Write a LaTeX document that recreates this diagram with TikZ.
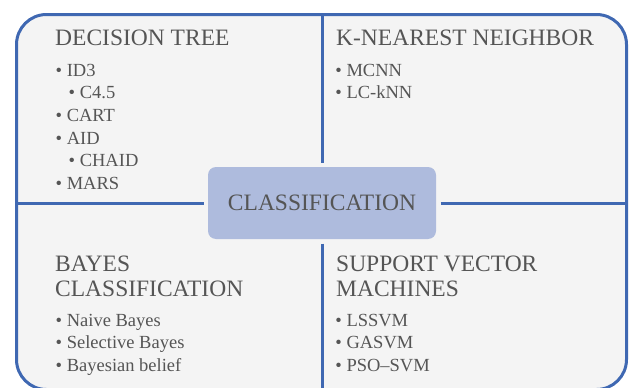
\documentclass[tikz,border=0pt]{standalone}
\usepackage{fontspec}
\setmainfont{Liberation Serif}
\definecolor{bordblue}{RGB}{63,104,178}
\definecolor{boxfill}{RGB}{244,244,244}
\definecolor{clsfill}{RGB}{174,187,221}
\definecolor{txtgray}{RGB}{85,85,85}
\begin{document}
\begin{tikzpicture}[x=1pt,y=-1pt,
 head/.style={anchor=base west,inner sep=0,text=txtgray,font=\rmfamily\fontsize{23.5}{28}\selectfont},
 item/.style={anchor=base west,inner sep=0,text=txtgray,font=\rmfamily\fontsize{18.5}{22}\selectfont},
 divider/.style={draw=bordblue,line width=3pt},
 cls/.style={fill=clsfill,rounded corners=8pt,minimum width=228pt,minimum height=72pt,inner sep=0,text=txtgray,font=\rmfamily\fontsize{23.5}{28}\selectfont,outer sep=4.5pt}]
\useasboundingbox (0,0) rectangle (630,388);
\node[draw=bordblue,line width=3pt,fill=boxfill,rounded corners=30pt,minimum width=610pt,minimum height=375pt,anchor=north west,inner sep=0] (frame) at (15,13) {};
\node[cls] (cls) at (322,203) {CLASSIFICATION};
\draw[divider] (cls.north |- frame.north) -- (cls.north);
\draw[divider] (cls.south) -- (cls.south |- frame.south);
\draw[divider] (frame.west |- cls.west) -- (cls.west);
\draw[divider] (cls.east) -- (cls.east -| frame.east);
% Decision tree
\node[head] (dt) at (55,45.7) {DECISION TREE};
\node[item] (dt1) at (55.5,76) {• ID3};
\node[item] (dt2) at (68.5,98.3) {• C4.5};
\node[item] (dt3) at (55.5,121.7) {• CART};
\node[item] (dt4) at (55.5,144.3) {• AID};
\node[item] (dt5) at (68.5,166.7) {• CHAID};
\node[item] (dt6) at (55.5,189.3) {• MARS};
% KNN
\node[head] (kn) at (336,45.7) {K-NEAREST NEIGHBOR};
\node[item] (kn1) at (335.2,76) {• MCNN};
\node[item] (kn2) at (335.2,98.3) {• LC-kNN};
% Bayes
\node[head] (by1) at (55,271) {BAYES};
\node[head] (by2) at (55,296) {CLASSIFICATION};
\node[item] (bi1) at (55.5,326) {• Naive Bayes};
\node[item] (bi2) at (55.5,348.7) {• Selective Bayes};
\node[item] (bi3) at (55.5,371) {• Bayesian belief};
% SVM
\node[head] (sv1) at (336,271) {SUPPORT VECTOR};
\node[head] (sv2) at (336,296) {MACHINES};
\node[item] (si1) at (335.2,326) {• LSSVM};
\node[item] (si2) at (335.2,348.7) {• GASVM};
\node[item] (si3) at (335.2,371) {• PSO–SVM};
\end{tikzpicture}
\end{document}
